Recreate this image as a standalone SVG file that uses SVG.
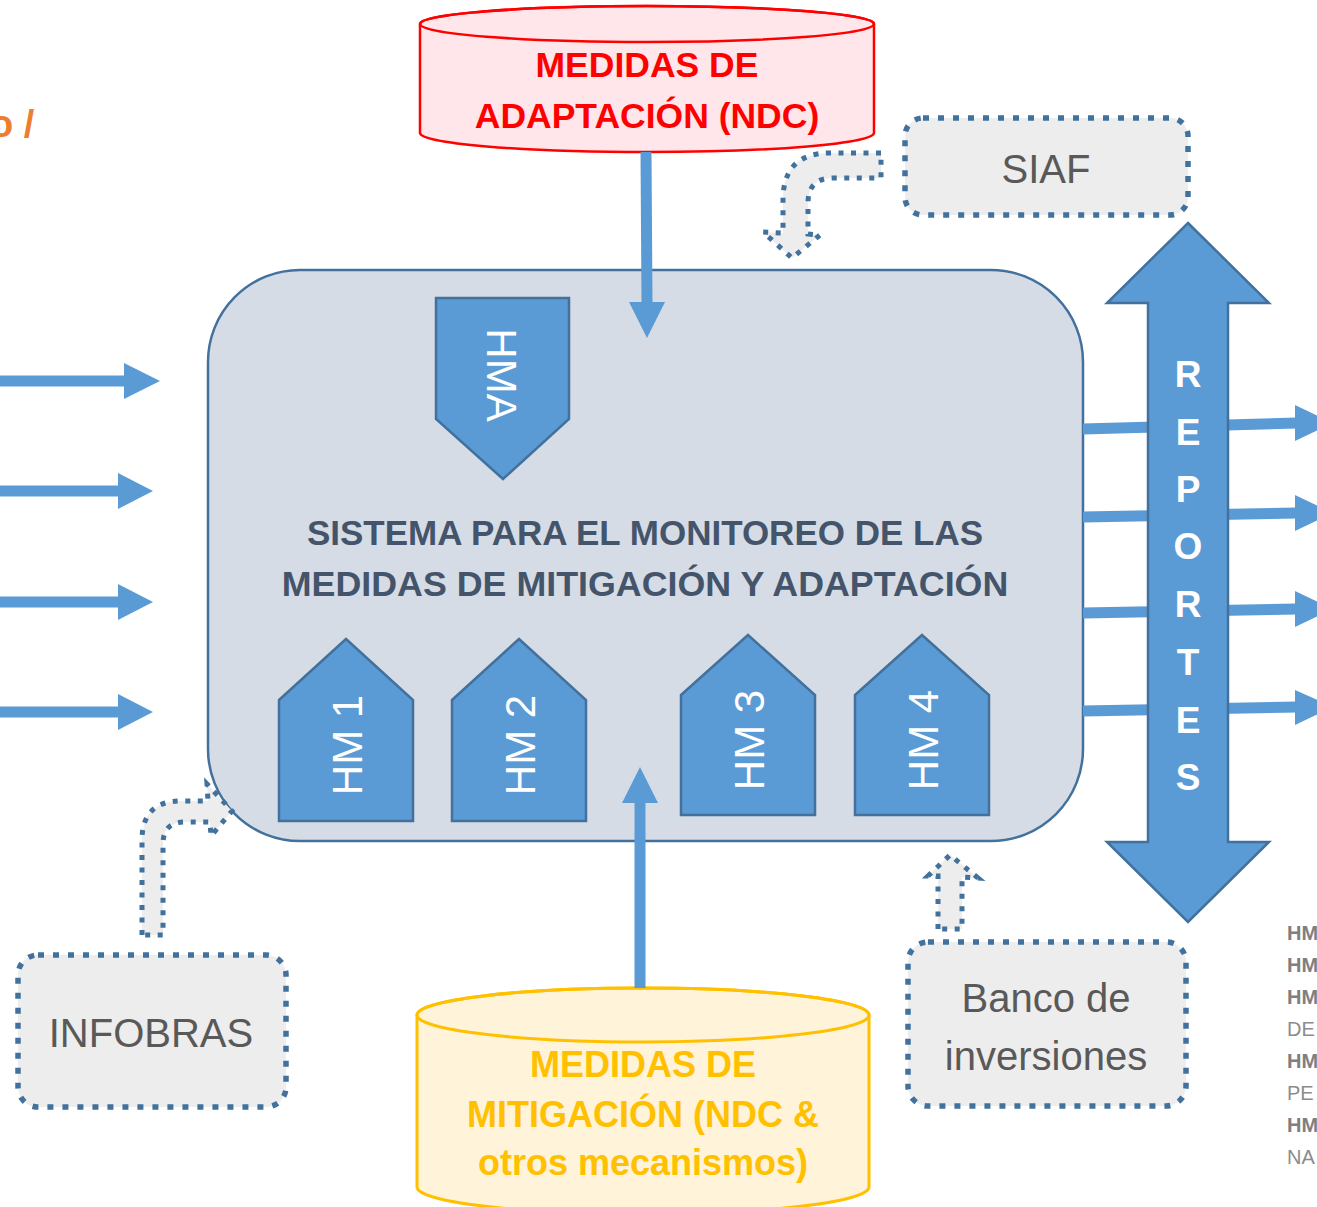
<svg xmlns="http://www.w3.org/2000/svg" width="1317" height="1207" viewBox="0 0 1317 1207">
<style>
.blue{fill:#5B9BD5;stroke:#41719C;stroke-width:2.5}
.flow{fill:#5B9BD5;stroke:none}
.line{stroke:#5B9BD5;stroke-width:11;fill:none}
.dotbox{fill:#EDEDED;stroke:#41719C;stroke-width:5.5;stroke-dasharray:6 9}
.dotarr{fill:#EDEDED;stroke:#41719C;stroke-width:5;stroke-dasharray:5 7.5}
.f{font-family:"Liberation Sans",Arial,sans-serif}
.b{font-weight:bold}
.hm{fill:#FFFFFF;font-size:42px;text-anchor:middle}
.gray{fill:#595959;font-size:40px;text-anchor:middle}
.rep{fill:#FFFFFF;font-size:37px;font-weight:bold;text-anchor:middle}
.side{font-size:20px}
</style>

<g id="title-fragment">
<text class="f b" x="-10" y="137" font-size="38" fill="#ED7D31">o /</text>
</g>

<g id="sistema">
<rect x="208" y="270" width="875" height="571" rx="92" ry="92" fill="#D6DCE5" stroke="#41719C" stroke-width="2.5"/>
<text class="f b" x="645" y="545" font-size="35" fill="#44546A" text-anchor="middle">SISTEMA PARA EL MONITOREO DE LAS</text>
<text class="f b" x="645" y="596" font-size="35.8" fill="#44546A" text-anchor="middle">MEDIDAS DE MITIGACIÓN Y ADAPTACIÓN</text>
</g>

<g id="hma">
<polygon class="blue" points="436,298 569,298 569,419 503,479 436,419"/>
<text class="f hm" transform="translate(487,375) rotate(90)">HMA</text>
</g>
<g id="hm1">
<polygon class="blue" points="279,700 346,639 413,700 413,821 279,821"/>
<text class="f hm" transform="translate(362,745) rotate(-90)">HM 1</text>
</g>
<g id="hm2">
<polygon class="blue" points="452,700 519,639 586,700 586,821 452,821"/>
<text class="f hm" transform="translate(535,745) rotate(-90)">HM 2</text>
</g>
<g id="hm3">
<polygon class="blue" points="681,695 748,635 815,695 815,815 681,815"/>
<text class="f hm" transform="translate(764,740) rotate(-90)">HM 3</text>
</g>
<g id="hm4">
<polygon class="blue" points="855,695 922,635 989,695 989,815 855,815"/>
<text class="f hm" transform="translate(938,740) rotate(-90)">HM 4</text>
</g>

<g id="adaptacion">
<path d="M420,24 L420,133 A227,19 0 0 0 874,133 L874,24 A227,18 0 0 0 420,24 Z" fill="#FFE6EA" stroke="#FF0000" stroke-width="2.5"/>
<ellipse cx="647" cy="24" rx="227" ry="18" fill="none" stroke="#FF0000" stroke-width="2.5"/>
<text class="f b" x="647" y="77" font-size="35.5" fill="#FF0000" text-anchor="middle">MEDIDAS DE</text>
<text class="f b" x="647" y="128" font-size="35.5" fill="#FF0000" text-anchor="middle">ADAPTACIÓN (NDC)</text>
</g>

<g id="mitigacion">
<path d="M417,1015 L417,1187 A226,27 0 0 0 869,1187 L869,1015 A226,27 0 0 0 417,1015 Z" fill="#FFF3D9" stroke="#FFC000" stroke-width="3"/>
<ellipse cx="643" cy="1015" rx="226" ry="27" fill="none" stroke="#FFC000" stroke-width="3"/>
<text class="f b" x="643" y="1077" font-size="36" fill="#FFC000" text-anchor="middle">MEDIDAS DE</text>
<text class="f b" x="643" y="1127" font-size="36" fill="#FFC000" text-anchor="middle">MITIGACIÓN (NDC &amp;</text>
<text class="f b" x="643" y="1175" font-size="36" fill="#FFC000" text-anchor="middle">otros mecanismos)</text>
</g>

<g id="siaf">
<rect class="dotbox" x="905" y="118" width="283" height="97" rx="18" ry="18"/>
<text class="f gray" x="1046" y="183">SIAF</text>
</g>
<g id="infobras">
<rect class="dotbox" x="18" y="955" width="268" height="152" rx="20" ry="20"/>
<text class="f gray" x="151" y="1047">INFOBRAS</text>
</g>
<g id="banco">
<rect class="dotbox" x="908" y="942" width="278" height="164" rx="20" ry="20"/>
<text class="f gray" x="1046" y="1012">Banco de</text>
<text class="f gray" x="1046" y="1070">inversiones</text>
</g>

<g id="connectors">
<line class="line" x1="0" y1="381" x2="126" y2="381"/>
<polygon class="flow" points="124,363 160,381 124,399"/>
<line class="line" x1="0" y1="491" x2="120" y2="491"/>
<polygon class="flow" points="118,473 153,491 118,509"/>
<line class="line" x1="0" y1="602" x2="120" y2="602"/>
<polygon class="flow" points="118,584 153,602 118,620"/>
<line class="line" x1="0" y1="712" x2="120" y2="712"/>
<polygon class="flow" points="118,694 153,712 118,730"/>

<line class="line" x1="646" y1="152" x2="647" y2="304"/>
<polygon class="flow" points="629,302 665,302 647,338"/>
<line class="line" x1="640" y1="988" x2="640" y2="801"/>
<polygon class="flow" points="622,803 658,803 640,767"/>

<line class="line" x1="1083" y1="429" x2="1297" y2="423"/>
<polygon class="flow" points="1295,405 1333,423 1295,441"/>
<line class="line" x1="1083" y1="517" x2="1297" y2="513"/>
<polygon class="flow" points="1295,495 1333,513 1295,531"/>
<line class="line" x1="1083" y1="613" x2="1297" y2="609"/>
<polygon class="flow" points="1295,591 1333,609 1295,627"/>
<line class="line" x1="1083" y1="711" x2="1297" y2="707"/>
<polygon class="flow" points="1295,690 1333,707 1295,725"/>

<path class="dotarr" d="M881,153 L830,153 Q783,153 783,200 L783,233 L763,232 L792,258 L820,235 L808,234 L808,203 Q808,178 833,178 L881,178 Z"/>
<path class="dotarr" d="M142,935 L142,840 Q142,801 181,801 L208,801 L207,784 L232,811 L211,836 L210,822 L185,822 Q163,822 163,844 L163,935 Z"/>
<path class="dotarr" d="M938,929 L938,876 L928,876 L950,855 L978,878 L962,877 L962,929 Z"/>
</g>

<g id="reportes">
<polygon class="blue" points="1188,223 1269,303 1228,303 1228,842 1269,842 1188,922 1107,842 1148,842 1148,303 1107,303"/>
<text class="f rep" x="1188" y="387">R</text>
<text class="f rep" x="1188" y="445">E</text>
<text class="f rep" x="1188" y="502">P</text>
<text class="f rep" x="1188" y="559">O</text>
<text class="f rep" x="1188" y="617">R</text>
<text class="f rep" x="1188" y="675">T</text>
<text class="f rep" x="1188" y="733">E</text>
<text class="f rep" x="1188" y="790">S</text>
</g>

<g id="legend">
<text class="f b side" x="1287" y="940" fill="#7F7F7F">HM</text>
<text class="f b side" x="1287" y="972" fill="#7F7F7F">HM</text>
<text class="f b side" x="1287" y="1004" fill="#7F7F7F">HM</text>
<text class="f side" x="1287" y="1036" fill="#8C8C8C">DE</text>
<text class="f b side" x="1287" y="1068" fill="#7F7F7F">HM</text>
<text class="f side" x="1287" y="1100" fill="#8C8C8C">PE</text>
<text class="f b side" x="1287" y="1132" fill="#7F7F7F">HM</text>
<text class="f side" x="1287" y="1164" fill="#8C8C8C">NA</text>
</g>
</svg>
